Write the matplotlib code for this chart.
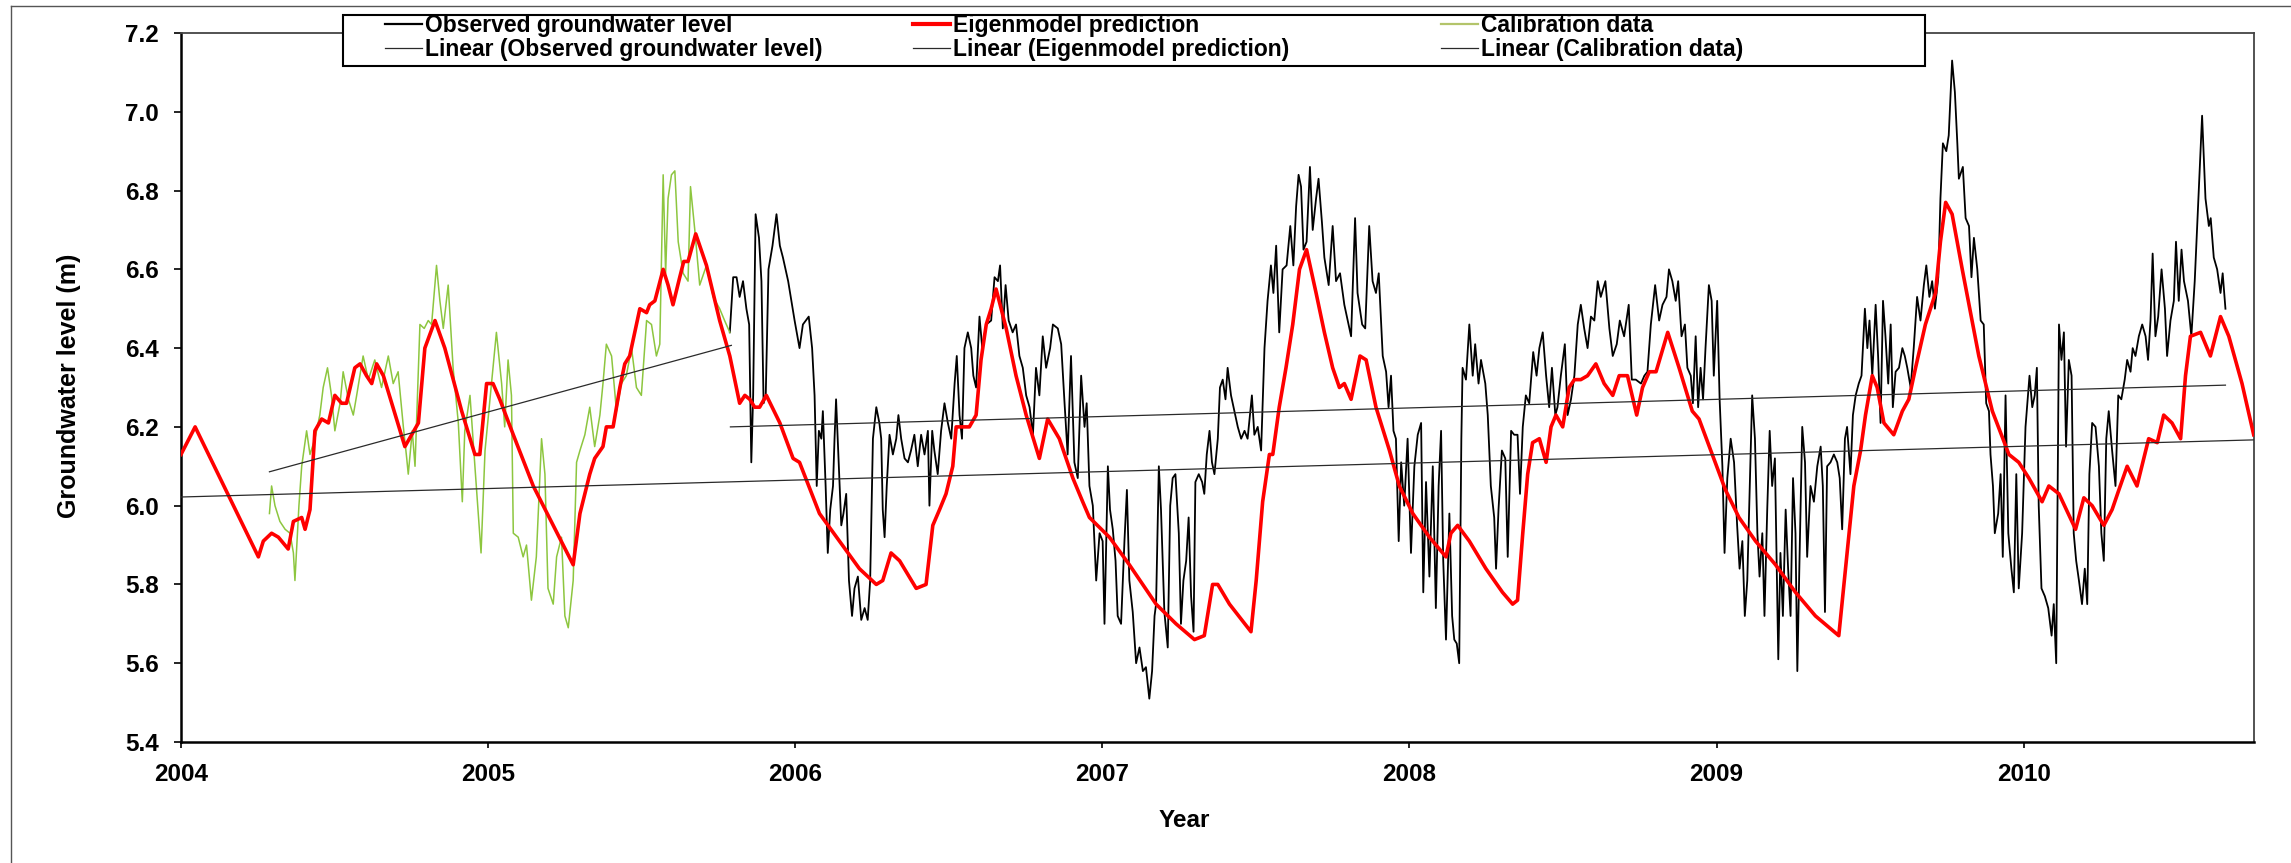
import matplotlib
matplotlib.use("Agg")
import matplotlib.pyplot as plt
from matplotlib.lines import Line2D
from matplotlib.patches import Rectangle

plt.rcParams["font.family"] = ["Liberation Sans", "DejaVu Sans"]
plt.rcParams["font.weight"] = "bold"

# ---- data (decimal year, groundwater level in m) ----
obs_year = [
    2005.787, 2005.798, 2005.809, 2005.819, 2005.830, 2005.841, 2005.850, 2005.857, 2005.863, 2005.871,
    2005.882, 2005.890, 2005.897, 2005.904, 2005.913, 2005.926, 2005.939, 2005.950, 2005.960, 2005.977,
    2005.998,
    2006.014, 2006.025, 2006.044, 2006.055, 2006.063, 2006.070, 2006.077, 2006.085, 2006.090, 2006.099,
    2006.106, 2006.114, 2006.123, 2006.128, 2006.133, 2006.142, 2006.150, 2006.157, 2006.166, 2006.175,
    2006.185, 2006.193, 2006.204, 2006.215, 2006.226, 2006.236, 2006.244, 2006.253, 2006.264, 2006.274,
    2006.280, 2006.285, 2006.291, 2006.298, 2006.307, 2006.318, 2006.329, 2006.336, 2006.345, 2006.356,
    2006.367, 2006.377, 2006.388, 2006.399, 2006.410, 2006.421, 2006.432, 2006.437, 2006.446, 2006.453,
    2006.464, 2006.475, 2006.486, 2006.497, 2006.508, 2006.519, 2006.526, 2006.535, 2006.543, 2006.551,
    2006.562, 2006.573, 2006.580, 2006.589, 2006.600, 2006.609, 2006.622, 2006.638, 2006.649, 2006.660,
    2006.667, 2006.676, 2006.685, 2006.695, 2006.708, 2006.719, 2006.730, 2006.741, 2006.752, 2006.763,
    2006.774, 2006.784, 2006.795, 2006.806, 2006.817, 2006.830, 2006.839, 2006.855, 2006.866, 2006.877,
    2006.887, 2006.898, 2006.909, 2006.920, 2006.931, 2006.942, 2006.949, 2006.958,
    2006.969, 2006.980, 2006.991, 2007.001, 2007.007, 2007.018, 2007.025, 2007.034, 2007.043, 2007.050,
    2007.061, 2007.072, 2007.080, 2007.088, 2007.099, 2007.110, 2007.121, 2007.132, 2007.142, 2007.153,
    2007.162, 2007.170, 2007.175, 2007.184, 2007.191, 2007.202, 2007.213, 2007.221, 2007.229, 2007.238,
    2007.249, 2007.256, 2007.264, 2007.273, 2007.281, 2007.289, 2007.297, 2007.303, 2007.314, 2007.325,
    2007.332, 2007.340, 2007.349, 2007.357, 2007.365, 2007.376, 2007.383, 2007.392, 2007.401, 2007.408,
    2007.419, 2007.430, 2007.441, 2007.452, 2007.463, 2007.473, 2007.487, 2007.495, 2007.506, 2007.517,
    2007.528, 2007.538, 2007.549, 2007.557, 2007.566, 2007.576, 2007.587, 2007.600, 2007.612, 2007.622,
    2007.631, 2007.639, 2007.647, 2007.655, 2007.665, 2007.676, 2007.685, 2007.696, 2007.704, 2007.715,
    2007.723, 2007.737, 2007.750, 2007.761, 2007.774, 2007.788, 2007.799, 2007.810, 2007.823, 2007.831,
    2007.846, 2007.856, 2007.869, 2007.880, 2007.891, 2007.900,
    2007.913, 2007.924, 2007.932, 2007.940, 2007.948, 2007.956, 2007.965, 2007.973, 2007.983, 2007.994,
    2008.005, 2008.016, 2008.027, 2008.038, 2008.045, 2008.054, 2008.065, 2008.076, 2008.086, 2008.095,
    2008.103, 2008.110, 2008.119, 2008.130, 2008.139, 2008.146, 2008.154, 2008.162, 2008.169, 2008.173,
    2008.184, 2008.195, 2008.206, 2008.214, 2008.225, 2008.233, 2008.247, 2008.255, 2008.265, 2008.276,
    2008.282, 2008.290, 2008.301, 2008.312, 2008.320, 2008.331, 2008.341, 2008.352, 2008.360, 2008.369,
    2008.379, 2008.390, 2008.403, 2008.414, 2008.423, 2008.434, 2008.445, 2008.455, 2008.464, 2008.475,
    2008.482, 2008.493, 2008.506, 2008.515, 2008.526, 2008.537, 2008.548, 2008.558, 2008.569, 2008.580,
    2008.591, 2008.602, 2008.613, 2008.623, 2008.638, 2008.651, 2008.662, 2008.675, 2008.685, 2008.699,
    2008.714, 2008.724, 2008.737, 2008.754, 2008.765, 2008.775, 2008.786, 2008.800, 2008.813, 2008.824,
    2008.837,
    2008.845, 2008.856, 2008.867, 2008.875, 2008.886, 2008.897, 2008.905, 2008.916, 2008.923, 2008.932,
    2008.940, 2008.948, 2008.956, 2008.964, 2008.975, 2008.984, 2008.991, 2009.002, 2009.010, 2009.019,
    2009.026, 2009.035, 2009.046, 2009.057, 2009.067, 2009.075, 2009.084, 2009.092, 2009.100, 2009.108,
    2009.116, 2009.125, 2009.133, 2009.140, 2009.149, 2009.156, 2009.165, 2009.173, 2009.181, 2009.190,
    2009.201, 2009.208, 2009.216, 2009.225, 2009.233, 2009.241, 2009.249, 2009.257, 2009.263, 2009.270,
    2009.279, 2009.288, 2009.295, 2009.306, 2009.317, 2009.328, 2009.339, 2009.346, 2009.353, 2009.360,
    2009.371, 2009.382, 2009.393, 2009.401, 2009.409, 2009.418, 2009.425, 2009.436, 2009.444, 2009.453,
    2009.463, 2009.472, 2009.483, 2009.491, 2009.498, 2009.507, 2009.518, 2009.526, 2009.534, 2009.542,
    2009.550, 2009.559, 2009.567, 2009.574, 2009.583, 2009.594, 2009.605, 2009.613, 2009.621, 2009.632,
    2009.642, 2009.653, 2009.664, 2009.675, 2009.683, 2009.693, 2009.702, 2009.711, 2009.722, 2009.729,
    2009.737, 2009.748, 2009.756, 2009.767, 2009.776, 2009.784,
    2009.789, 2009.802, 2009.811, 2009.822, 2009.830, 2009.838, 2009.849, 2009.860, 2009.870, 2009.878,
    2009.887, 2009.892, 2009.900, 2009.906, 2009.917, 2009.925, 2009.932, 2009.941, 2009.950, 2009.960,
    2009.968, 2009.976, 2009.984, 2009.995, 2010.006, 2010.019, 2010.028, 2010.036, 2010.043, 2010.049,
    2010.058, 2010.069, 2010.080, 2010.091, 2010.098, 2010.106, 2010.115, 2010.123, 2010.131, 2010.138,
    2010.147, 2010.156, 2010.163, 2010.171, 2010.180, 2010.190, 2010.199, 2010.207, 2010.214, 2010.223,
    2010.234, 2010.245, 2010.253, 2010.261, 2010.269, 2010.277, 2010.288, 2010.299, 2010.308, 2010.318,
    2010.329, 2010.337, 2010.348, 2010.355, 2010.364, 2010.375, 2010.386, 2010.397, 2010.405, 2010.413,
    2010.420, 2010.429, 2010.438, 2010.449, 2010.460, 2010.467, 2010.478, 2010.489, 2010.496, 2010.505,
    2010.514, 2010.522, 2010.535, 2010.546, 2010.557, 2010.568, 2010.581, 2010.592, 2010.603, 2010.609,
    2010.619, 2010.630, 2010.641, 2010.648, 2010.657,
]
obs_level = [
    6.44, 6.58, 6.58, 6.53, 6.57, 6.50, 6.46, 6.11, 6.28, 6.74,
    6.68, 6.57, 6.26, 6.28, 6.60, 6.66, 6.74, 6.66, 6.63, 6.57,
    6.47,
    6.40, 6.46, 6.48, 6.40, 6.28, 6.05, 6.19, 6.17, 6.24, 6.05,
    5.88, 5.99, 6.05, 6.17, 6.27, 6.10, 5.95, 5.98, 6.03, 5.81,
    5.72, 5.79, 5.82, 5.71, 5.74, 5.71, 5.81, 6.17, 6.25, 6.21,
    6.17, 5.99, 5.92, 6.05, 6.18, 6.13, 6.17, 6.23, 6.17, 6.12,
    6.11, 6.14, 6.18, 6.10, 6.18, 6.13, 6.19, 6.00, 6.19, 6.14,
    6.08, 6.19, 6.26, 6.21, 6.17, 6.31, 6.38, 6.23, 6.17, 6.40,
    6.44, 6.40, 6.33, 6.30, 6.48, 6.40, 6.46, 6.47, 6.58, 6.57,
    6.61, 6.45, 6.56, 6.47, 6.44, 6.46, 6.38, 6.35, 6.28, 6.25,
    6.18, 6.35, 6.28, 6.43, 6.35, 6.40, 6.46, 6.45, 6.41, 6.26,
    6.13, 6.38, 6.11, 6.07, 6.33, 6.20, 6.26, 6.05,
    6.00, 5.81, 5.93, 5.91, 5.70, 6.10, 5.99, 5.94, 5.86, 5.72,
    5.70, 5.91, 6.04, 5.81, 5.73, 5.60, 5.64, 5.58, 5.59, 5.51,
    5.58, 5.72, 5.75, 6.10, 5.99, 5.73, 5.64, 6.00, 6.07, 6.08,
    5.93, 5.70, 5.81, 5.86, 5.97, 5.77, 5.68, 6.06, 6.08, 6.06,
    6.03, 6.13, 6.19, 6.11, 6.08, 6.17, 6.30, 6.32, 6.27, 6.35,
    6.28, 6.24, 6.20, 6.17, 6.19, 6.17, 6.28, 6.18, 6.20, 6.14,
    6.40, 6.52, 6.61, 6.54, 6.66, 6.44, 6.60, 6.61, 6.71, 6.61,
    6.76, 6.84, 6.81, 6.65, 6.67, 6.86, 6.70, 6.78, 6.83, 6.72,
    6.63, 6.56, 6.71, 6.57, 6.59, 6.51, 6.47, 6.43, 6.73, 6.54,
    6.46, 6.45, 6.71, 6.57, 6.54, 6.59,
    6.38, 6.34, 6.25, 6.33, 6.19, 6.17, 5.91, 6.11, 6.00, 6.17,
    5.88, 6.10, 6.18, 6.21, 5.78, 6.06, 5.82, 6.10, 5.74, 6.05,
    6.19, 5.86, 5.66, 5.98, 5.72, 5.66, 5.65, 5.60, 6.17, 6.35,
    6.32, 6.46, 6.33, 6.41, 6.31, 6.37, 6.31, 6.23, 6.05, 5.97,
    5.84, 5.99, 6.14, 6.12, 5.87, 6.19, 6.18, 6.18, 6.03, 6.20,
    6.28, 6.26, 6.39, 6.33, 6.40, 6.44, 6.33, 6.25, 6.35, 6.23,
    6.25, 6.33, 6.41, 6.23, 6.27, 6.33, 6.46, 6.51, 6.45, 6.40,
    6.48, 6.47, 6.57, 6.53, 6.57, 6.45, 6.38, 6.41, 6.47, 6.43,
    6.51, 6.32, 6.32, 6.31, 6.33, 6.34, 6.46, 6.56, 6.47, 6.51,
    6.53,
    6.60, 6.57, 6.52, 6.57, 6.43, 6.46, 6.35, 6.33, 6.26, 6.43,
    6.25, 6.35, 6.27, 6.40, 6.56, 6.52, 6.33, 6.52, 6.27, 6.10,
    5.88, 6.07, 6.17, 6.11, 5.95, 5.84, 5.91, 5.72, 5.81, 6.05,
    6.28, 6.17, 5.93, 5.82, 5.93, 5.72, 5.99, 6.19, 6.05, 6.12,
    5.61, 5.88, 5.72, 5.99, 5.84, 5.72, 6.07, 5.93, 5.58, 5.86,
    6.20, 6.11, 5.87, 6.05, 6.01, 6.10, 6.15, 6.05, 5.73, 6.10,
    6.11, 6.13, 6.11, 6.07, 5.94, 6.17, 6.20, 6.08, 6.23, 6.28,
    6.31, 6.33, 6.50, 6.40, 6.47, 6.33, 6.51, 6.38, 6.21, 6.52,
    6.43, 6.31, 6.46, 6.25, 6.34, 6.35, 6.40, 6.38, 6.35, 6.30,
    6.40, 6.53, 6.47, 6.56, 6.61, 6.53, 6.57, 6.50, 6.58, 6.78,
    6.92, 6.90, 6.94, 7.13, 7.05, 6.92,
    6.83, 6.86, 6.73, 6.71, 6.58, 6.68, 6.60, 6.47, 6.46, 6.26,
    6.24, 6.13, 6.05, 5.93, 5.98, 6.08, 5.87, 6.28, 5.93, 5.84,
    5.78, 6.08, 5.79, 5.93, 6.20, 6.33, 6.25, 6.28, 6.35, 6.00,
    5.79, 5.77, 5.74, 5.67, 5.75, 5.60, 6.46, 6.37, 6.44, 6.15,
    6.37, 6.33, 5.93, 5.86, 5.81, 5.75, 5.84, 5.75, 6.08, 6.21,
    6.20, 6.10, 5.93, 5.86, 6.17, 6.24, 6.14, 6.05, 6.28, 6.27,
    6.32, 6.37, 6.34, 6.40, 6.38, 6.43, 6.46, 6.43, 6.37, 6.47,
    6.64, 6.43, 6.48, 6.60, 6.50, 6.38, 6.47, 6.52, 6.67, 6.52,
    6.65, 6.57, 6.52, 6.43, 6.57, 6.76, 6.99, 6.78, 6.71, 6.73,
    6.63, 6.60, 6.54, 6.59, 6.50,
]

model_year = [
    2004.000, 2004.046, 2004.252, 2004.268, 2004.295, 2004.317, 2004.349, 2004.366, 2004.393, 2004.404,
    2004.420, 2004.436, 2004.458, 2004.480, 2004.501, 2004.523, 2004.539, 2004.566, 2004.583, 2004.604,
    2004.621, 2004.637, 2004.659, 2004.729, 2004.751, 2004.773, 2004.794, 2004.827, 2004.859, 2004.914,
    2004.957, 2004.973, 2004.995, 2005.016, 2005.038, 2005.082, 2005.147, 2005.277, 2005.299, 2005.331,
    2005.347, 2005.374, 2005.385, 2005.407, 2005.429, 2005.445, 2005.461, 2005.494, 2005.516, 2005.526,
    2005.543, 2005.570, 2005.586, 2005.602, 2005.624, 2005.637, 2005.651, 2005.676, 2005.711, 2005.754,
    2005.787, 2005.819, 2005.836, 2005.852, 2005.868, 2005.884, 2005.906, 2005.950, 2005.993, 2006.014,
    2006.079, 2006.144, 2006.209, 2006.264, 2006.285, 2006.312, 2006.340, 2006.394, 2006.426, 2006.448,
    2006.470, 2006.491, 2006.513, 2006.524, 2006.546, 2006.567, 2006.589, 2006.605, 2006.622, 2006.638,
    2006.654, 2006.687, 2006.719, 2006.752, 2006.795, 2006.822, 2006.860, 2006.904, 2006.936, 2006.958,
    2007.023, 2007.088, 2007.175, 2007.240, 2007.300, 2007.332, 2007.359, 2007.376, 2007.414, 2007.484,
    2007.501, 2007.522, 2007.544, 2007.555, 2007.576, 2007.598, 2007.620, 2007.642, 2007.665, 2007.696,
    2007.723, 2007.750, 2007.772, 2007.788, 2007.810, 2007.839, 2007.859, 2007.891, 2007.935, 2007.967,
    2008.011, 2008.065, 2008.119, 2008.135, 2008.157, 2008.195, 2008.249, 2008.303, 2008.336, 2008.352,
    2008.369, 2008.385, 2008.401, 2008.423, 2008.445, 2008.461, 2008.477, 2008.499, 2008.520, 2008.537,
    2008.558, 2008.580, 2008.607, 2008.634, 2008.662, 2008.683, 2008.710, 2008.740, 2008.759, 2008.781,
    2008.803, 2008.841, 2008.878, 2008.921, 2008.943, 2008.986, 2009.029, 2009.073, 2009.127, 2009.192,
    2009.257, 2009.322, 2009.398, 2009.420, 2009.447, 2009.469, 2009.485, 2009.507, 2009.523, 2009.545,
    2009.577, 2009.605, 2009.626, 2009.648, 2009.680, 2009.713, 2009.729, 2009.746, 2009.767, 2009.800,
    2009.822, 2009.854, 2009.898, 2009.952, 2009.984, 2010.017, 2010.060, 2010.082, 2010.115, 2010.169,
    2010.196, 2010.223, 2010.261, 2010.288, 2010.310, 2010.337, 2010.369, 2010.407, 2010.435, 2010.456,
    2010.483, 2010.511, 2010.527, 2010.543, 2010.576, 2010.608, 2010.641, 2010.668, 2010.711, 2010.749,
]
model_level = [
    6.13, 6.20, 5.87, 5.91, 5.93, 5.92, 5.89, 5.96, 5.97, 5.94,
    5.99, 6.19, 6.22, 6.21, 6.28, 6.26, 6.26, 6.35, 6.36, 6.33,
    6.31, 6.36, 6.33, 6.15, 6.18, 6.21, 6.40, 6.47, 6.40, 6.24,
    6.13, 6.13, 6.31, 6.31, 6.27, 6.18, 6.05, 5.85, 5.98, 6.08,
    6.12, 6.15, 6.20, 6.20, 6.30, 6.36, 6.38, 6.50, 6.49, 6.51,
    6.52, 6.60, 6.56, 6.51, 6.58, 6.62, 6.62, 6.69, 6.61, 6.47,
    6.38, 6.26, 6.28, 6.27, 6.25, 6.25, 6.28, 6.21, 6.12, 6.11,
    5.98, 5.91, 5.84, 5.80, 5.81, 5.88, 5.86, 5.79, 5.80, 5.95,
    5.99, 6.03, 6.10, 6.20, 6.20, 6.20, 6.23, 6.37, 6.46, 6.50,
    6.55, 6.45, 6.33, 6.23, 6.12, 6.22, 6.17, 6.07, 6.01, 5.97,
    5.92, 5.85, 5.75, 5.70, 5.66, 5.67, 5.80, 5.80, 5.75, 5.68,
    5.81, 6.01, 6.13, 6.13, 6.25, 6.35, 6.46, 6.60, 6.65, 6.54,
    6.44, 6.35, 6.30, 6.31, 6.27, 6.38, 6.37, 6.25, 6.14, 6.05,
    5.98, 5.92, 5.87, 5.93, 5.95, 5.91, 5.84, 5.78, 5.75, 5.76,
    5.93, 6.08, 6.16, 6.17, 6.11, 6.20, 6.23, 6.20, 6.30, 6.32,
    6.32, 6.33, 6.36, 6.31, 6.28, 6.33, 6.33, 6.23, 6.30, 6.34,
    6.34, 6.44, 6.35, 6.24, 6.22, 6.13, 6.04, 5.97, 5.91, 5.85,
    5.78, 5.72, 5.67, 5.84, 6.05, 6.14, 6.23, 6.33, 6.30, 6.21,
    6.18, 6.24, 6.27, 6.35, 6.46, 6.54, 6.67, 6.77, 6.74, 6.60,
    6.51, 6.38, 6.24, 6.13, 6.11, 6.07, 6.01, 6.05, 6.03, 5.94,
    6.02, 6.00, 5.95, 5.99, 6.04, 6.10, 6.05, 6.17, 6.16, 6.23,
    6.21, 6.17, 6.33, 6.43, 6.44, 6.38, 6.48, 6.43, 6.31, 6.18,
]

calib_year = [
    2004.288, 2004.295, 2004.306, 2004.322, 2004.339, 2004.355, 2004.366, 2004.371, 2004.384, 2004.393,
    2004.409, 2004.420, 2004.436, 2004.452, 2004.463, 2004.477, 2004.490, 2004.501, 2004.518, 2004.528,
    2004.545, 2004.561, 2004.572, 2004.593, 2004.610, 2004.631, 2004.653, 2004.675, 2004.691, 2004.707,
    2004.724, 2004.735, 2004.740, 2004.753, 2004.762, 2004.778, 2004.792, 2004.805, 2004.816, 2004.832,
    2004.843, 2004.854, 2004.870, 2004.886, 2004.903, 2004.916, 2004.924, 2004.941, 2004.957, 2004.977,
    2004.990, 2005.011, 2005.027, 2005.044, 2005.054, 2005.065, 2005.076, 2005.082, 2005.098, 2005.114,
    2005.125, 2005.141, 2005.157, 2005.174, 2005.185, 2005.195, 2005.212, 2005.223, 2005.239, 2005.250,
    2005.261, 2005.277, 2005.288, 2005.299, 2005.315, 2005.331, 2005.347, 2005.364, 2005.374, 2005.385,
    2005.402, 2005.418, 2005.434, 2005.450, 2005.467, 2005.483, 2005.499, 2005.516, 2005.532, 2005.548,
    2005.559, 2005.570, 2005.578, 2005.586, 2005.597, 2005.608, 2005.619, 2005.635, 2005.651, 2005.659,
    2005.673, 2005.689, 2005.711, 2005.733, 2005.754, 2005.770, 2005.787,
]
calib_level = [
    5.98, 6.05, 6.00, 5.96, 5.94, 5.93, 5.88, 5.81, 6.00, 6.10,
    6.19, 6.13, 6.17, 6.23, 6.30, 6.35, 6.28, 6.19, 6.26, 6.34,
    6.27, 6.23, 6.28, 6.38, 6.32, 6.37, 6.30, 6.38, 6.31, 6.34,
    6.20, 6.12, 6.08, 6.19, 6.10, 6.46, 6.45, 6.47, 6.46, 6.61,
    6.52, 6.45, 6.56, 6.35, 6.21, 6.01, 6.19, 6.28, 6.10, 5.88,
    6.14, 6.31, 6.44, 6.31, 6.20, 6.37, 6.28, 5.93, 5.92, 5.87,
    5.90, 5.76, 5.87, 6.17, 6.08, 5.79, 5.75, 5.87, 5.92, 5.72,
    5.69, 5.81, 6.11, 6.14, 6.18, 6.25, 6.15, 6.23, 6.31, 6.41,
    6.38, 6.24, 6.31, 6.33, 6.40, 6.30, 6.28, 6.47, 6.46, 6.38,
    6.41, 6.84, 6.59, 6.78, 6.84, 6.85, 6.67, 6.59, 6.57, 6.81,
    6.70, 6.56, 6.61, 6.53, 6.50, 6.47, 6.44,
]

# linear trend lines (start/end of each fitted line)
trend_obs_year = [2005.789, 2010.657]
trend_obs_level = [6.200, 6.306]
trend_model_year = [2004.000, 2010.749]
trend_model_level = [6.022, 6.167]
trend_calib_year = [2004.288, 2005.792]
trend_calib_level = [6.086, 6.407]

year_ticks = [2004, 2005, 2006, 2007, 2008, 2009, 2010]
level_ticks = [5.4, 5.6, 5.8, 6.0, 6.2, 6.4, 6.6, 6.8, 7.0, 7.2]

assert len(obs_year) == len(obs_level)
assert len(model_year) == len(model_level)
assert len(calib_year) == len(calib_level)

# ---- figure ----
W, H = 2291, 863
fig = plt.figure(figsize=(W / 100, H / 100), dpi=100)
ax = fig.add_axes([181 / W, 1 - 742 / H, (2254 - 181) / W, (742 - 33) / H])

obs_color = "black"
model_color = "#ff0000"
calib_color = "#8dc63f"
trend_color = "#2a2a2a"

ax.plot(obs_year, obs_level, color=obs_color, lw=1.3, zorder=2)
ax.plot(calib_year, calib_level, color=calib_color, lw=1.1, zorder=3)
ax.plot(model_year, model_level, color=model_color, lw=2.6, zorder=4)
ax.plot(trend_obs_year, trend_obs_level, color=trend_color, lw=0.9, zorder=5)
ax.plot(trend_model_year, trend_model_level, color=trend_color, lw=0.9, zorder=5)
ax.plot(trend_calib_year, trend_calib_level, color=trend_color, lw=0.9, zorder=5)

ax.set_xlim(2004, 2010.75)
ax.set_ylim(5.4, 7.2)
ax.set_xticks(year_ticks)
ax.set_xticklabels([str(y) for y in year_ticks])
ax.set_yticks(level_ticks)
ax.set_yticklabels([f"{v:.1f}" for v in level_ticks])
ax.tick_params(axis="x", direction="out", length=4, width=1.2, labelsize=17.5, pad=11)
ax.tick_params(axis="y", direction="out", length=5, width=1.2, labelsize=17.5, pad=11)

for side in ["left", "bottom"]:
    ax.spines[side].set_linewidth(1.8)
    ax.spines[side].set_color("black")
for side in ["top", "right"]:
    ax.spines[side].set_linewidth(1.3)
    ax.spines[side].set_color("#444444")

ax.set_xlabel("Year", fontsize=17.5, fontweight="bold")
ax.xaxis.set_label_coords(0.484, -0.094)
ax.set_ylabel("Groundwater level (m)", fontsize=18, fontweight="bold")
ax.yaxis.set_label_coords(-0.048, 0.502)

# outer chart border (left and top edges)
fig.add_artist(Line2D([11 / W, 11 / W], [0, 1 - 6 / H], transform=fig.transFigure,
                      color="#555555", lw=1.0))
fig.add_artist(Line2D([11 / W, 1], [1 - 6 / H, 1 - 6 / H], transform=fig.transFigure,
                      color="#555555", lw=1.0))

# legend box drawn as one frame, entries placed in three equal columns
fig.add_artist(Rectangle((343 / W, 1 - 66 / H), (1925 - 343) / W, (66 - 15) / H,
                         transform=fig.transFigure, facecolor="white",
                         edgecolor="black", lw=1.5, zorder=5))

columns = [
    (385, [Line2D([], [], color=obs_color, lw=1.6), Line2D([], [], color=trend_color, lw=0.9)],
     ["Observed groundwater level", "Linear (Observed groundwater level)"]),
    (913, [Line2D([], [], color=model_color, lw=3.0), Line2D([], [], color=trend_color, lw=0.9)],
     ["Eigenmodel prediction", "Linear (Eigenmodel prediction)"]),
    (1441, [Line2D([], [], color="#b3c46a", lw=1.6), Line2D([], [], color=trend_color, lw=0.9)],
     ["Calibration data", "Linear (Calibration data)"]),
]
for x_px, handles, labels in columns:
    leg = fig.legend(handles, labels, loc="upper left",
                     bbox_to_anchor=(x_px / W, 1 - 14 / H),
                     bbox_transform=fig.transFigure, frameon=False, borderpad=0,
                     borderaxespad=0, handlelength=1.6, handletextpad=0.15,
                     labelspacing=0.05, prop={"size": 16.5, "weight": "bold"})
    leg.set_zorder(6)

fig.savefig("out.png", dpi=100, facecolor="white")
